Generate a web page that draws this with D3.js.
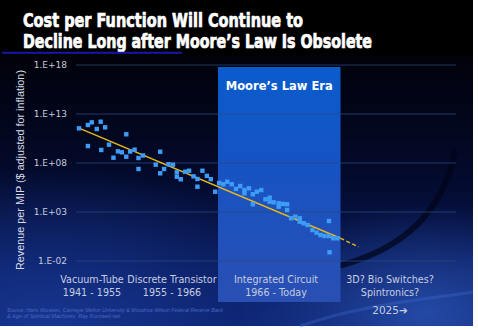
<!DOCTYPE html>
<html><head><meta charset="utf-8">
<script src="https://cdn.jsdelivr.net/npm/d3@7"></script>
<style>html,body{margin:0;padding:0;background:#fff;}svg{display:block;}</style>
</head><body>
<svg id="c" width="478" height="330"></svg>
<script>
// ---- data ----
const years = [1941.0,1942.6,1943.3,1944.2,1944.9,1945.7,1949.5,1942.6,1945.0,1946.4,1947.2,1948.0,1948.7,1949.5,1950.2,1951.0,1951.7,1951.7,1952.5,1954.8,1955.6,1955.6,1956.3,1957.1,1957.9,1958.6,1958.6,1959.3,1960.1,1960.8,1961.6,1962.3,1962.3,1963.2,1964.0,1964.7,1965.5,1966.4,1967.9,1969.3,1970.9,1972.4,1973.9,1975.4,1975.4,1977.0,1978.4,1978.4,1979.8,1981.4,1982.9,1984.4,1984.4,1985.8,1987.6,1987.6,1989.1,1990.6,1990.6,1992.0,1993.5,1995.1,1995.1,1996.5,1997.9,1999.6,2001.1,2002.5,2003.9,2005.5,2005.5,2007.0,2008.5,2005.7];
const log10Revenue = [11.54,11.88,12.15,11.47,12.21,11.64,10.93,9.73,9.33,9.87,8.54,9.19,9.09,8.64,9.17,9.36,8.51,7.39,8.77,7.83,9.15,6.95,7.39,7.87,7.83,7.05,6.60,6.34,7.11,7.21,6.64,6.37,5.58,7.21,6.69,6.35,5.07,5.96,5.83,6.09,5.83,5.35,5.65,5.24,4.91,5.42,4.81,3.79,5.07,5.24,4.30,4.46,4.05,3.99,3.89,3.54,3.82,3.79,3.20,2.36,2.52,2.36,2.01,1.85,1.67,1.16,0.89,0.65,0.55,0.55,2.08,0.32,0.32,-1.11];
const trendYears = [1941, 2009.6];
const trendLog = [11.55, 0.32];
const projYears = [2009.6, 2016.0];
const projLog = [0.32, -0.55];
const tickExponents = [-2, 3, 8, 13, 18];
const tickLabels = ["1.E-02", "1.E+03", "1.E+08", "1.E+13", "1.E+18"];
const mooreEra = [1966, 2009.6];
const eraLabels = [
  ["Vacuum-Tube", "1941 - 1955"],
  ["Discrete Transistor", "1955 - 1966"],
  ["Integrated Circuit", "1966 - Today"],
  ["3D? Bio Switches?", "Spintronics?", "2025\u2794"]
];
const titleLines = ["Cost per Function Will Continue to", "Decline Long after Moore\u2019s Law Is Obsolete"];
const yTitle = "Revenue per MIP ($ adjusted for inflation)";
const sourceLines = ["Source: Hans Moravec, Carnegie Mellon University & Woodrow Wilson Federal Reserve Bank", "& Age of Spiritual Machines, Ray Kurzweil.net"];

// ---- drawing ----
const svg = d3.select("#c");
const defs = svg.append("defs");
const bg = defs.append("linearGradient").attr("id","bg").attr("x1",0).attr("y1",0).attr("x2",0).attr("y2",1);
bg.append("stop").attr("offset","0%").attr("stop-color","#01020a");
bg.append("stop").attr("offset","45%").attr("stop-color","#030a2c");
bg.append("stop").attr("offset","80%").attr("stop-color","#08195a");
bg.append("stop").attr("offset","100%").attr("stop-color","#0a1f6a");
const glowL = defs.append("radialGradient").attr("id","glowL").attr("cx",0.1).attr("cy",1).attr("r",0.6);
glowL.append("stop").attr("offset","0%").attr("stop-color","#1a3c9a").attr("stop-opacity",0.8);
glowL.append("stop").attr("offset","100%").attr("stop-color","#1a3c9a").attr("stop-opacity",0);
const glowR = defs.append("radialGradient").attr("id","glowR").attr("cx",0.9).attr("cy",0.95).attr("r",0.4);
glowR.append("stop").attr("offset","0%").attr("stop-color","#2f5cc0").attr("stop-opacity",0.7);
glowR.append("stop").attr("offset","100%").attr("stop-color","#2f5cc0").attr("stop-opacity",0);
const mg = defs.append("linearGradient").attr("id","moore").attr("x1",0).attr("y1",0).attr("x2",0).attr("y2",1);
mg.append("stop").attr("offset","0%").attr("stop-color","#0a5ccc");
mg.append("stop").attr("offset","40%").attr("stop-color","#1653c4");
mg.append("stop").attr("offset","100%").attr("stop-color","#2a4fb3");

// canvas
svg.append("rect").attr("x",0).attr("y",0).attr("width",473).attr("height",326).attr("fill","#000");
svg.append("rect").attr("x",0).attr("y",56).attr("width",473).attr("height",270).attr("fill","url(#bg)");
svg.append("rect").attr("x",0).attr("y",56).attr("width",473).attr("height",270).attr("fill","url(#glowL)");
svg.append("rect").attr("x",0).attr("y",56).attr("width",473).attr("height",270).attr("fill","url(#glowR)");
// dark swoosh
svg.append("path").attr("d","M455,150 C445,205 410,250 330,268 C300,274 250,280 230,282")
  .attr("fill","none").attr("stroke","#010418").attr("stroke-width",6).attr("opacity",0.7);
svg.append("path").attr("d","M300,326 C360,305 420,300 473,292")
  .attr("fill","none").attr("stroke","#3e6ad0").attr("stroke-width",3).attr("opacity",0.35);

// title
const title = svg.append("g").attr("font-family","'Liberation Sans Narrow','DejaVu Sans Condensed','Liberation Sans',sans-serif")
  .attr("font-weight","bold").attr("font-size",19).attr("fill","#fff")
  .attr("stroke","#fff").attr("stroke-width",0.7).attr("stroke-linejoin","round");
title.selectAll("text").data(titleLines).join("text")
  .attr("x",23).attr("y",(d,i)=>i?47.5:26.7)
  .attr("textLength",(d,i)=>i?349:280).attr("lengthAdjust","spacingAndGlyphs")
  .text(d=>d);
svg.append("rect").attr("x",2).attr("y",51.8).attr("width",180).attr("height",2).attr("fill","#1616a8");

// scales
const x = d3.scaleLinear().domain([1941, 1966, 2009.6]).range([79, 218, 340.5]);
const y = d3.scaleLog().domain([1e-2, 1e18]).range([261, 65]);

// Moore's law era band
svg.append("rect").attr("x",x(mooreEra[0])).attr("y",67)
  .attr("width",x(mooreEra[1])-x(mooreEra[0])).attr("height",235).attr("fill","url(#moore)");
svg.append("text").attr("x",(x(mooreEra[0])+x(mooreEra[1]))/2).attr("y",90)
  .attr("text-anchor","middle").attr("font-family","'DejaVu Sans',sans-serif").attr("font-weight","bold")
  .attr("font-size",12).attr("fill","#fff").attr("textLength",107).attr("lengthAdjust","spacingAndGlyphs")
  .text("Moore\u2019s Law Era");

// gridlines + tick labels
const yAxis = d3.axisLeft(y).tickValues(tickExponents.map(e=>Math.pow(10,e)))
  .tickFormat((d,i)=>tickLabels[i]).tickSize(0).tickPadding(0);
const ag = svg.append("g").attr("transform","translate(67,0)").call(yAxis);
ag.select(".domain").remove();
ag.selectAll("text").attr("font-family","'DejaVu Sans',sans-serif").attr("font-size",9).attr("fill","#c3cbdd");
svg.append("g").selectAll("line").data(tickExponents).join("line")
  .attr("x1",76).attr("x2",456)
  .attr("y1",e=>y(Math.pow(10,e))).attr("y2",e=>y(Math.pow(10,e)))
  .attr("stroke","#2a4a7e").attr("stroke-opacity",0.75).attr("stroke-width",1.2);

// y title
svg.append("text").attr("transform","translate(24,170) rotate(-90)")
  .attr("text-anchor","middle").attr("font-family","'Liberation Sans',sans-serif").attr("font-size",11)
  .attr("fill","#d6dbe6").attr("textLength",200).attr("lengthAdjust","spacingAndGlyphs").text(yTitle);

// trend line
const line = d3.line().x(d=>x(d[0])).y(d=>y(Math.pow(10,d[1])));
svg.append("path").datum(d3.zip(trendYears,trendLog)).attr("d",line)
  .attr("fill","none").attr("stroke","#e8b818").attr("stroke-width",1.4);
svg.append("path").datum(d3.zip(projYears,projLog)).attr("d",line)
  .attr("fill","none").attr("stroke","#e8b818").attr("stroke-width",1.4).attr("stroke-dasharray","4,2.5");

// points
const s = 4.4;
svg.append("g").selectAll("rect").data(d3.zip(years,log10Revenue)).join("rect")
  .attr("x",d=>x(d[0])-s/2).attr("y",d=>y(Math.pow(10,d[1]))-s/2)
  .attr("width",s).attr("height",s).attr("fill","#3d9cf5");

// era labels
const centers = [92, 172, 276, 390];
const eg = svg.append("g").attr("font-family","'DejaVu Sans',sans-serif").attr("font-size",9.6)
  .attr("fill","#c6cde2").attr("text-anchor","middle");
eraLabels.forEach((lines,i)=>{
  lines.forEach((t,j)=>{
    eg.append("text").attr("x",centers[i]).attr("y",[283,296,314][j])
      .attr("font-size", t.indexOf("\u2794")>=0 ? 10.5 : null).text(t);
  });
});

// source
svg.append("g").attr("font-family","'Liberation Sans',sans-serif").attr("font-style","italic")
  .attr("font-size",5).attr("fill","#4a68c0")
  .selectAll("text").data(sourceLines).join("text")
  .attr("x",7).attr("y",(d,i)=>i?318:311.5)
  .attr("textLength",(d,i)=>i?113:216).attr("lengthAdjust","spacingAndGlyphs").text(d=>d);
</script>
</body></html>
